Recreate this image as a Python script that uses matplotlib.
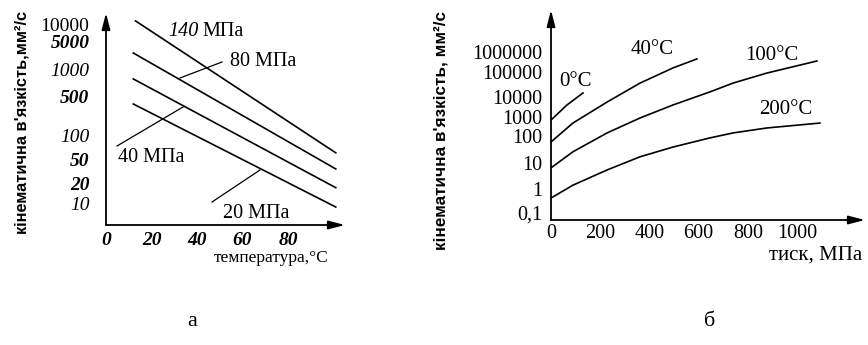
import numpy as np
import matplotlib
matplotlib.use("Agg")
import matplotlib.pyplot as plt
from matplotlib.lines import Line2D

# panel a: kinematic viscosity vs temperature, one line per pressure (MPa)
pressures_a = ["140", "80", "40", "20"]
temp_a = [[13, 101], [12, 101], [12, 101], [12, 101]]
visc_a = [[11800, 61], [2660, 35], [795, 17], [372, 8.7]]
xticks_a = [0, 20, 40, 60, 80]
yticks_a = [10, 20, 50, 100, 500, 1000, 5000, 10000]

# panel b: kinematic viscosity vs pressure, one curve per temperature
temps_b = ["0°C", "40°C", "100°C", "200°C"]
press_b = [
    [0, 65, 130],
    [0, 89, 228, 362, 496, 593],
    [0, 89, 228, 362, 496, 646, 740, 878, 1081],
    [0, 89, 228, 362, 496, 646, 740, 878, 1093],
]
visc_b = [
    [690, 4000, 14500],
    [60, 480, 5600, 36000, 160000, 450000],
    [6.5, 26, 145, 890, 4000, 16000, 36000, 91000, 355000],
    [0.42, 1.4, 5.4, 17, 39, 85, 145, 265, 480],
]
xticks_b = [0, 200, 400, 600, 800, 1000]
yticks_b = [0.1, 1, 10, 100, 1000, 10000, 100000, 1000000]
ytick_labels_b = ["0,1", "1", "10", "100", "1000", "10000", "100000", "1000000"]

W, H = 868, 345
SERIF = "Liberation Serif"
SANS = "Liberation Sans"

# the printed axes are not a true log scale: tick heights (px above the x axis)
heights_a = [22, 42, 65, 90, 128, 155, 183, 200]
heights_b = [7, 31, 57, 84, 103, 123, 148, 168]


def extend(x, xp, fp):
    x = np.asarray(x, float)
    y = np.interp(x, xp, fp)
    lo_slope = (fp[1] - fp[0]) / (xp[1] - xp[0])
    hi_slope = (fp[-1] - fp[-2]) / (xp[-1] - xp[-2])
    y = np.where(x < xp[0], fp[0] + (x - xp[0]) * lo_slope, y)
    y = np.where(x > xp[-1], fp[-1] + (x - xp[-1]) * hi_slope, y)
    return y


def printed_scale(vals, heights):
    lv = np.log10(np.array(vals, float))
    h = np.array(heights, float)

    def fwd(v):
        with np.errstate(divide="ignore", invalid="ignore"):
            return extend(np.log10(np.asarray(v, float)), lv, h)

    def inv(p):
        return 10 ** extend(p, h, lv)

    return fwd, inv


def px(x, y):
    return x / W, 1 - y / H


def arrows(ax):
    style = dict(arrowstyle="-|>,head_length=0.7,head_width=0.18",
                 color="k", lw=1.3, mutation_scale=14, shrinkA=0, shrinkB=0)
    ax.annotate("", xy=(1, 0), xytext=(0, 0), xycoords="axes fraction",
                textcoords="axes fraction", arrowprops=style)
    ax.annotate("", xy=(0, 1), xytext=(0, 0), xycoords="axes fraction",
                textcoords="axes fraction", arrowprops=style)
    for s in ax.spines.values():
        s.set_visible(False)


fig = plt.figure(figsize=(W / 100, H / 100), dpi=100)

# ---------------- panel a
ax1 = fig.add_axes([106 / W, 1 - 225 / H, (345 - 106) / W, 212 / H])
fwd, inv = printed_scale(yticks_a, heights_a)
ax1.set_yscale("function", functions=(fwd, inv))
for t, v in zip(temp_a, visc_a):
    ax1.plot(t, v, color="k", lw=1.2)
ax1.set_xlim(0, (345 - 106) / 2.275)
ax1.set_ylim(inv(0), inv(212))
ax1.set_xticks(xticks_a, labels=[str(t) for t in xticks_a])
ax1.set_yticks(yticks_a, labels=[str(t) for t in yticks_a])
ax1.minorticks_off()
ax1.tick_params(axis="y", length=0, pad=12)
ax1.tick_params(axis="x", length=0, pad=5)
for lab in ax1.get_xticklabels():
    lab.set(family=SERIF, style="italic", weight="bold", fontsize=14)
thin = {"10", "100", "1000"}
for lab in ax1.get_yticklabels():
    txt = lab.get_text()
    lab.set(family=SERIF, fontsize=14,
            style="normal" if txt == "10000" else "italic",
            weight="normal" if txt in thin or txt == "10000" else "bold")
arrows(ax1)

fig.text(*px(22, 122), "кінематична в'язкість,мм²/с", rotation=90,
         ha="center", va="center", family=SANS, weight="bold", fontsize=11.8)
fig.text(*px(328, 258), "температура,°С", ha="right", va="center",
         family=SERIF, fontsize=12.5)

# line labels with leader strokes
fig.text(*px(168, 32), "140", ha="left", va="center", family=SERIF,
         style="italic", fontsize=14.5)
fig.text(*px(202, 32), "МПа", ha="left", va="center", family=SERIF, fontsize=14.5)
fig.text(*px(230, 62), "80 МПа", ha="left", va="center", family=SERIF, fontsize=14.5)
fig.text(*px(118, 157), "40 МПа", ha="left", va="center", family=SERIF, fontsize=14.5)
fig.text(*px(223, 213), "20 МПа", ha="left", va="center", family=SERIF, fontsize=14.5)
for (x1, y1), (x2, y2) in [((180, 78), (222, 62)), ((117, 146), (183, 107)),
                           ((212, 202), (260, 170))]:
    a, b = px(x1, y1)
    c, d = px(x2, y2)
    fig.add_artist(Line2D([a, c], [b, d], transform=fig.transFigure,
                          color="k", lw=0.9))

# ---------------- panel b
ax2 = fig.add_axes([551 / W, 1 - 220 / H, (865 - 551) / W, 210 / H])
fwd2, inv2 = printed_scale(yticks_b, heights_b)
ax2.set_yscale("function", functions=(fwd2, inv2))
for p, v in zip(press_b, visc_b):
    ax2.plot(p, v, color="k", lw=1.2)
ax2.set_xlim(0, (865 - 551) / 0.246)
ax2.set_ylim(inv2(0), inv2(210))
ax2.set_xticks(xticks_b, labels=[str(t) for t in xticks_b])
ax2.set_yticks(yticks_b, labels=ytick_labels_b)
ax2.minorticks_off()
ax2.tick_params(axis="y", length=0, pad=6)
ax2.tick_params(axis="x", length=0, pad=3)
for lab in ax2.get_xticklabels() + ax2.get_yticklabels():
    lab.set(family=SERIF, fontsize=14.5)
arrows(ax2)

fig.text(*px(441, 130), "кінематична в'язкість, мм²/с", rotation=90,
         ha="center", va="center", family=SANS, weight="bold", fontsize=12.3)
fig.text(*px(862, 255), "тиск, МПа", ha="right", va="center",
         family=SERIF, fontsize=15)

for name, (x, y) in zip(temps_b, [(576, 82), (652, 50), (772, 55), (786, 110)]):
    fig.text(*px(x, y), name, ha="center", va="center", family=SERIF, fontsize=15)

# panel letters
fig.text(*px(192, 322), "а", ha="center", va="center", family=SERIF, fontsize=16)
fig.text(*px(710, 322), "б", ha="center", va="center", family=SERIF, fontsize=16)

fig.savefig("out.png", dpi=100, facecolor="white")
